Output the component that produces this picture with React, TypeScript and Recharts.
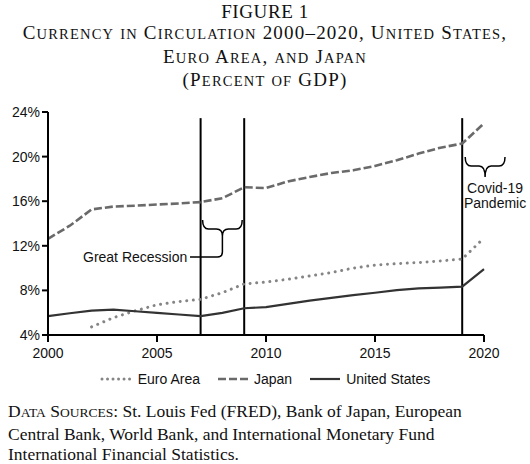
import { LineChart, Line, XAxis, YAxis, ReferenceLine } from 'recharts';

const YEARS = [2000, 2001, 2002, 2003, 2004, 2005, 2006, 2007, 2008, 2009, 2010, 2011, 2012, 2013, 2014, 2015, 2016, 2017, 2018, 2019, 2020];
const EURO = [null, null, 4.73, 5.55, 6.17, 6.71, 7.0, 7.2, 7.8, 8.58, 8.75, 9.0, 9.3, 9.6, 10.0, 10.27, 10.4, 10.5, 10.64, 10.82, 12.7];
const JAPAN = [12.63, 13.8, 15.26, 15.52, 15.6, 15.7, 15.8, 15.92, 16.27, 17.25, 17.18, 17.77, 18.17, 18.53, 18.77, 19.16, 19.67, 20.27, 20.8, 21.17, 22.98];
const US = [5.69, 5.95, 6.19, 6.28, 6.13, 5.99, 5.84, 5.69, 5.99, 6.4, 6.5, 6.79, 7.09, 7.33, 7.58, 7.79, 8.03, 8.18, 8.24, 8.33, 9.9];

const X_TICKS = [2000, 2005, 2010, 2015, 2020];
const Y_TICKS = [4, 8, 12, 16, 20, 24];
const EVENT_YEARS = [2007, 2009, 2019];

const data = YEARS.map((year, i) => ({ year, euro: EURO[i], japan: JAPAN[i], us: US[i] }));

const W = 530;
const H = 464;
const PLOT_LEFT = 48;
const PLOT_RIGHT = 484;
const PLOT_TOP = 112;
const PLOT_BOTTOM = 335;

const xOf = (year: number) => PLOT_LEFT + ((year - 2000) / 20) * (PLOT_RIGHT - PLOT_LEFT);

const SANS = '"Liberation Sans", Arial, sans-serif';
const SERIF = '"Liberation Serif", "Times New Roman", serif';

const EURO_COLOR = '#858585';
const JAPAN_COLOR = '#6a6a6a';
const US_COLOR = '#333333';

// lowercase letters drawn as smaller capitals
function SmallCaps({ text, small }: { text: string; small: number }) {
  const parts = text.match(/[a-z]+|[^a-z]+/g) ?? [];
  return (
    <>
      {parts.map((p, i) =>
        /[a-z]/.test(p) ? (
          <span key={i} style={{ fontSize: small }}>{p.toUpperCase()}</span>
        ) : (
          <span key={i}>{p}</span>
        )
      )}
    </>
  );
}

// horizontal curly brace, ends pointing up, cusp pointing down
function brace(x1: number, x2: number, yEnd: number, yMid: number, yCusp: number) {
  const xm = (x1 + x2) / 2;
  const r = 6;
  return `M${x1},${yEnd} Q${x1},${yMid} ${x1 + r},${yMid} L${xm - r},${yMid} Q${xm},${yMid} ${xm},${yCusp} Q${xm},${yMid} ${xm + r},${yMid} L${x2 - r},${yMid} Q${x2},${yMid} ${x2},${yEnd}`;
}

function LegendItem({ label, color, dash, width, cap }: { label: string; color: string; dash?: string; width: number; cap?: 'round' | 'butt' }) {
  return (
    <div style={{ display: 'flex', alignItems: 'center', gap: 4 }}>
      <svg width={34} height={8}>
        <line x1={2} y1={4} x2={32} y2={4} stroke={color} strokeWidth={width} strokeDasharray={dash} strokeLinecap={cap ?? 'butt'} />
      </svg>
      <span>{label}</span>
    </div>
  );
}

export default function App() {
  const gx1 = xOf(2007);
  const gx2 = xOf(2009);
  const gm = (gx1 + gx2) / 2;
  const cx1 = xOf(2019) + 3;
  const cx2 = xOf(2020) + 21;
  const cm = (cx1 + cx2) / 2;

  return (
    <div style={{ position: 'absolute', left: 0, top: 0, width: W, height: H, background: '#fff', overflow: 'hidden' }}>
      <div style={{ position: 'absolute', left: 0, top: 1, width: W, textAlign: 'center', fontFamily: SERIF, fontSize: 19, lineHeight: '21.3px', color: '#111' }}>
        <div style={{ letterSpacing: 0.6 }}>FIGURE 1</div>
        <div style={{ letterSpacing: 1.2 }}><SmallCaps text="Currency in Circulation 2000–2020, United States," small={14.5} /></div>
        <div style={{ letterSpacing: 1.2 }}><SmallCaps text="Euro Area, and Japan" small={14.5} /></div>
        <div style={{ letterSpacing: 1.2 }}><SmallCaps text="(Percent of GDP)" small={14.5} /></div>
      </div>

      <div style={{ position: 'absolute', left: 0, top: 0 }}>
        <LineChart width={W} height={H} data={data} margin={{ top: PLOT_TOP, right: W - PLOT_RIGHT, bottom: H - PLOT_BOTTOM - 30, left: 8 }}>
          <XAxis
            dataKey="year"
            type="number"
            domain={[2000, 2020]}
            ticks={X_TICKS}
            height={30}
            axisLine={{ stroke: '#000', strokeWidth: 2 }}
            tickLine={{ stroke: '#000', strokeWidth: 2 }}
            tickSize={7}
            tickMargin={6}
            tick={{ fill: '#111', fontSize: 14, fontFamily: SANS }}
          />
          <YAxis
            type="number"
            domain={[4, 24]}
            ticks={Y_TICKS}
            width={40}
            axisLine={{ stroke: '#000', strokeWidth: 2 }}
            tickLine={{ stroke: '#000', strokeWidth: 2 }}
            tickSize={6}
            tickMargin={2}
            tickFormatter={(v: number) => `${v}%`}
            tick={{ fill: '#111', fontSize: 14, fontFamily: SANS }}
          />
          {EVENT_YEARS.map((y) => (
            <ReferenceLine
              key={y}
              segment={[{ x: y, y: 23.45 }, { x: y, y: 4 }]}
              stroke="#000"
              strokeWidth={2}
            />
          ))}
          <Line
            dataKey="japan"
            type="linear"
            stroke={JAPAN_COLOR}
            strokeWidth={2.6}
            strokeDasharray="8 3"
            dot={false}
            isAnimationActive={false}
          />
          <Line
            dataKey="euro"
            type="linear"
            stroke={EURO_COLOR}
            strokeWidth={3}
            strokeDasharray="0.01 6.6"
            strokeLinecap="round"
            dot={false}
            isAnimationActive={false}
          />
          <Line
            dataKey="us"
            type="linear"
            stroke={US_COLOR}
            strokeWidth={2.2}
            dot={false}
            isAnimationActive={false}
          />
        </LineChart>
      </div>

      <svg width={W} height={H} style={{ position: 'absolute', left: 0, top: 0, pointerEvents: 'none' }}>
        <path d={brace(gx1 + 2, gx2 - 2, 220, 229, 236)} fill="none" stroke="#000" strokeWidth={1.5} />
        <path d={`M${gm},236 L${gm},252 Q${gm},257 ${gm - 5},257 L190,257`} fill="none" stroke="#000" strokeWidth={1.5} />
        <text x={83} y={262} fontFamily={SANS} fontSize={14} fill="#111">Great Recession</text>

        <path d={brace(cx1, cx2, 157, 166, 177)} fill="none" stroke="#000" strokeWidth={1.5} />
        <text x={cm + 10} y={193} fontFamily={SANS} fontSize={14} fill="#111" textAnchor="middle">Covid-19</text>
        <text x={cm + 10} y={208} fontFamily={SANS} fontSize={14} fill="#111" textAnchor="middle">Pandemic</text>
      </svg>

      <div style={{ position: 'absolute', left: 0, top: 371, width: W, display: 'flex', justifyContent: 'center', gap: 16, fontFamily: SANS, fontSize: 14, color: '#111' }}>
        <LegendItem label="Euro Area" color={EURO_COLOR} width={3} dash="0.01 5.5" cap="round" />
        <LegendItem label="Japan" color={JAPAN_COLOR} width={2.6} dash="8 3" />
        <LegendItem label="United States" color={US_COLOR} width={2.2} />
      </div>

      <div style={{ position: 'absolute', left: 8, top: 401, width: 522, fontFamily: SERIF, fontSize: 17.5, lineHeight: '20.5px', color: '#111', whiteSpace: 'nowrap' }}>
        <div><SmallCaps text="Data Sources:" small={13.5} /> St. Louis Fed (FRED), Bank of Japan, European</div>
        <div>Central Bank, World Bank, and International Monetary Fund</div>
        <div>International Financial Statistics.</div>
      </div>
    </div>
  );
}
